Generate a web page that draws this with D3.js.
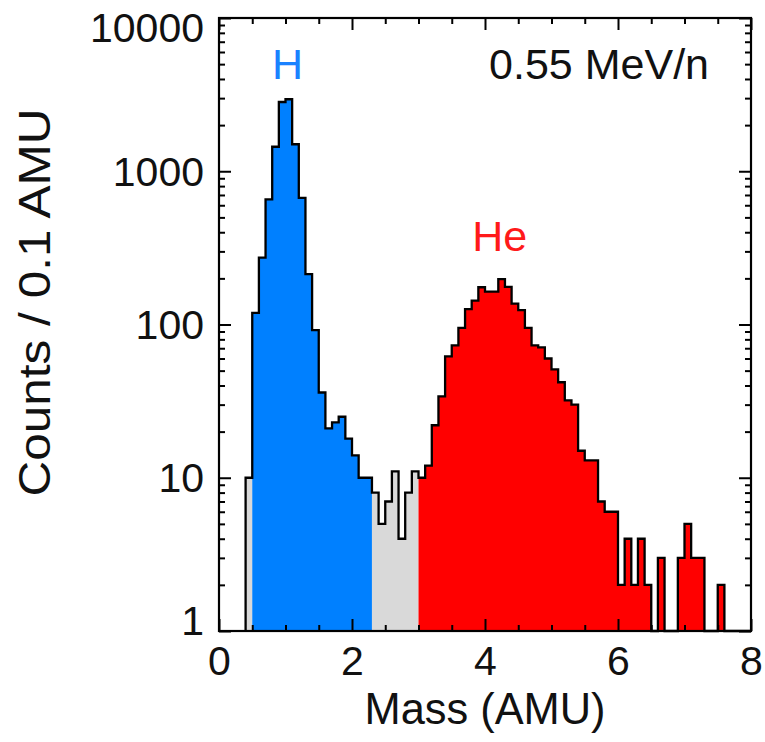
<!DOCTYPE html>
<html>
<head>
<meta charset="utf-8">
<script src="https://cdn.jsdelivr.net/npm/d3@7"></script>
<style>
  html, body { margin: 0; padding: 0; background: #fff; }
  svg { display: block; }
  text { font-family: "Liberation Sans", Arial, Helvetica, sans-serif; }
</style>
</head>
<body>
<svg id="chart" width="765" height="742"></svg>
<script>
// ---- data (bin lower edges in AMU, 0.1 AMU wide) ----
const binStarts = [0.4,0.5,0.6,0.7,0.8,0.9,1.0,1.1,1.2,1.3,1.4,1.5,1.6,1.7,1.8,1.9,
  2.0,2.1,2.2,2.3,2.4,2.5,2.6,2.7,2.8,2.9,3.0,3.1,3.2,3.3,3.4,3.5,3.6,3.7,3.8,3.9,
  4.0,4.1,4.2,4.3,4.4,4.5,4.6,4.7,4.8,4.9,5.0,5.1,5.2,5.3,5.4,5.5,5.6,5.7,5.8,5.9,
  6.0,6.1,6.2,6.3,6.4,6.5,6.6,6.7,6.8,6.9,7.0,7.1,7.2,7.3,7.4,7.5,7.6,7.7,7.8,7.9];
const counts = [10,119,273,656,1445,2830,2950,1500,670,213,92,36,21,23,25,18,
  14,10,10,8,5,7,11,4,8,11,10,12,22,34,62,73,95,126,143,175,
  164,164,198,176,137,124,95,73,71,60,51,42,32,30,15,13,13,7,6,6,
  2,4,2,4,2,0,3,0,0,3,5,3,3,0,0,2,0,0,0,0];
const binWidth = 0.1;

// species regions: [start, end] in AMU and fill colour
const regionNames  = ["bg1", "H", "bg2", "He"];
const regionStarts = [0.4, 0.5, 2.3, 3.0];
const regionEnds   = [0.5, 2.3, 3.0, 8.0];
const regionColors = ["#d9d9d9", "#0080ff", "#d9d9d9", "#ff0000"];

const xMajorTicks = [0, 2, 4, 6, 8];
const xMinorTicks = [0.5, 1, 1.5, 2.5, 3, 3.5, 4.5, 5, 5.5, 6.5, 7, 7.5];
const yMajorTicks = [1, 10, 100, 1000, 10000];
const yTickLabels = ["1", "10", "100", "1000", "10000"];

// ---- layout ----
const L = 219, R = 751, T = 18, B = 631;
const svg = d3.select("#chart");

const x = d3.scaleLinear().domain([0, 8]).range([L, R]);
const y = d3.scaleLog().domain([1, 10000]).range([B, T]);
const yv = v => (v > 0 ? y(Math.max(v, 1)) : y(1));

const yMinorTicks = [];
yMajorTicks.slice(0, -1).forEach(d => { for (let k = 2; k <= 9; k++) yMinorTicks.push(d * k); });

const bins = binStarts.map((m, i) => ({ m: m, v: counts[i] }));

// ---- filled regions ----
const area = d3.area()
  .x(d => x(d.m))
  .y0(y(1))
  .y1(d => yv(d.v))
  .curve(d3.curveStepAfter);

regionNames.forEach((name, r) => {
  const pts = bins.filter(d => d.m >= regionStarts[r] - 1e-9 && d.m < regionEnds[r] - 1e-9);
  if (!pts.length) return;
  const closed = pts.concat([{ m: Math.min(regionEnds[r], pts[pts.length - 1].m + binWidth), v: pts[pts.length - 1].v }]);
  svg.append("path")
    .attr("class", "fill-" + name)
    .attr("d", area(closed))
    .attr("fill", regionColors[r]);
});

// ---- histogram outline ----
const outlinePts = [{ m: binStarts[0], v: 0 }]
  .concat(bins)
  .concat([{ m: binStarts[binStarts.length - 1] + binWidth, v: 0 }]);
const line = d3.line().x(d => x(d.m)).y(d => yv(d.v)).curve(d3.curveStepAfter);
svg.append("path")
  .attr("d", line(outlinePts))
  .attr("fill", "none")
  .attr("stroke", "#000")
  .attr("stroke-width", 2.3)
  .attr("stroke-linejoin", "miter");

// ---- axes (ticks point inward) ----
const fontSize = 41;
function styleAxis(g) {
  g.select(".domain").remove();
  g.selectAll(".tick line").attr("stroke", "#000").attr("stroke-width", 2);
  g.selectAll(".tick text").attr("fill", "#111").attr("font-size", fontSize)
    .attr("font-family", '"Liberation Sans", Arial, sans-serif');
}

svg.append("g").attr("transform", `translate(0,${B})`)
  .call(d3.axisBottom(x).tickValues(xMajorTicks).tickSize(-12).tickPadding(15).tickFormat(d3.format("d")))
  .call(styleAxis);
svg.append("g").attr("transform", `translate(0,${B})`)
  .call(d3.axisBottom(x).tickValues(xMinorTicks).tickSize(-6).tickFormat(""))
  .call(styleAxis);
svg.append("g").attr("transform", `translate(0,${T})`)
  .call(d3.axisTop(x).tickValues(xMajorTicks).tickSize(-12).tickFormat(""))
  .call(styleAxis);
svg.append("g").attr("transform", `translate(0,${T})`)
  .call(d3.axisTop(x).tickValues(xMinorTicks).tickSize(-6).tickFormat(""))
  .call(styleAxis);

const yLeft = svg.append("g").attr("transform", `translate(${L},0)`)
  .call(d3.axisLeft(y).tickValues(yMajorTicks).tickSize(-12).tickPadding(15)
    .tickFormat((d, i) => yTickLabels[i]))
  .call(styleAxis);
yLeft.selectAll(".tick text").attr("dy", d => d === 10000 ? "0.58em" : d === 1 ? "0.08em" : "0.34em");

svg.append("g").attr("transform", `translate(${L},0)`)
  .call(d3.axisLeft(y).tickValues(yMinorTicks).tickSize(-6).tickFormat(""))
  .call(styleAxis);
svg.append("g").attr("transform", `translate(${R},0)`)
  .call(d3.axisRight(y).tickValues(yMajorTicks).tickSize(-12).tickFormat(""))
  .call(styleAxis);
svg.append("g").attr("transform", `translate(${R},0)`)
  .call(d3.axisRight(y).tickValues(yMinorTicks).tickSize(-6).tickFormat(""))
  .call(styleAxis);

// frame
svg.append("rect")
  .attr("x", L).attr("y", T).attr("width", R - L).attr("height", B - T)
  .attr("fill", "none").attr("stroke", "#000").attr("stroke-width", 2.2);

// ---- text ----
svg.append("text")
  .attr("x", (L + R) / 2).attr("y", 724)
  .attr("text-anchor", "middle")
  .attr("font-size", 44).attr("fill", "#111")
  .attr("textLength", 241).attr("lengthAdjust", "spacingAndGlyphs")
  .text("Mass (AMU)");

svg.append("text")
  .attr("transform", `translate(50,${(108 + 497) / 2}) rotate(-90)`)
  .attr("text-anchor", "middle")
  .attr("font-size", 44).attr("fill", "#111")
  .attr("textLength", 388).attr("lengthAdjust", "spacingAndGlyphs")
  .text("Counts / 0.1 AMU");

svg.append("text")
  .attr("x", 709).attr("y", 79)
  .attr("text-anchor", "end")
  .attr("font-size", 43).attr("fill", "#111")
  .text("0.55 MeV/n");

svg.append("text")
  .attr("x", x(1.03)).attr("y", 79)
  .attr("text-anchor", "middle")
  .attr("font-size", 43).attr("fill", "#1a82ff")
  .text("H");

svg.append("text")
  .attr("x", x(4.22)).attr("y", 251)
  .attr("text-anchor", "middle")
  .attr("font-size", 43).attr("fill", "#ff1a1a")
  .text("He");
</script>
</body>
</html>
